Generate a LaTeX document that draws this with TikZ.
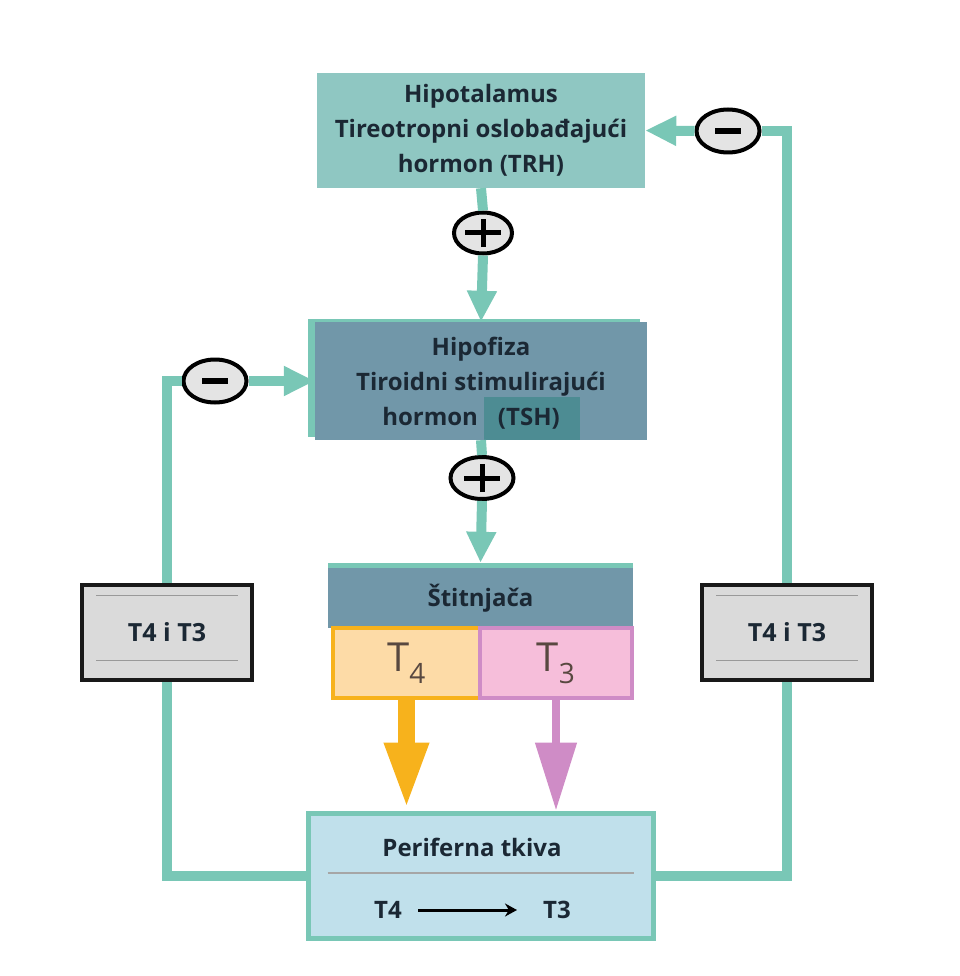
\documentclass[tikz,border=0pt]{standalone}
\usepackage{fontspec}
\setmainfont{Open Sans}
\usetikzlibrary{arrows.meta,positioning,calc,shapes.geometric}
\definecolor{LoopTeal}{RGB}{121,199,182}
\definecolor{HypoTeal}{RGB}{143,199,194}
\definecolor{SlateBlue}{RGB}{113,151,169}
\definecolor{TshTeal}{RGB}{77,140,147}
\definecolor{NavyText}{RGB}{27,40,52}
\definecolor{PeriBlue}{RGB}{192,224,235}
\definecolor{FourFill}{RGB}{253,219,167}
\definecolor{FourLine}{RGB}{247,178,28}
\definecolor{ThreeFill}{RGB}{246,190,218}
\definecolor{ThreeLine}{RGB}{207,140,198}
\definecolor{BoxGray}{RGB}{218,218,218}
\definecolor{SignGray}{RGB}{228,228,228}
\definecolor{HormText}{RGB}{88,72,64}

\tikzset{
  organbox/.style={rectangle, align=center, inner sep=0pt, text=NavyText,
    font=\bfseries\fontsize{24}{35}\selectfont},
  feedline/.style={draw=LoopTeal, line width=10pt},
  feedarrow/.style={feedline, -{Triangle[length=31pt,width=28pt]}},
  levelbox/.style={rectangle, draw=black!90, line width=4pt, fill=BoxGray,
    minimum width=170pt, minimum height=95pt, text=NavyText,
    font=\bfseries\fontsize{25}{28}\selectfont},
  hormbox/.style={rectangle, line width=4pt, minimum height=70pt, inner sep=0pt,
    text=HormText, font=\fontsize{40}{42}\selectfont},
  signoval/.style={ellipse, draw=black, line width=4pt, fill=SignGray,
    minimum width=58pt, minimum height=41pt, inner sep=0pt},
  plussign/.style={signoval, path picture={
    \draw[line width=5pt] ([xshift=-18pt]path picture bounding box.center) -- ([xshift=18pt]path picture bounding box.center);
    \draw[line width=5pt] ([yshift=-14pt]path picture bounding box.center) -- ([yshift=14pt]path picture bounding box.center);}},
  minussign/.style={signoval, path picture={
    \draw[line width=6pt] ([xshift=-13pt]path picture bounding box.center) -- ([xshift=13pt]path picture bounding box.center);}}
}

\begin{document}
\begin{tikzpicture}[x=1pt,y=-1pt]
  \useasboundingbox (0,0) rectangle (959,976);

  % glands
  \node[organbox, fill=HypoTeal, minimum width=328pt, minimum height=115pt] (hypo) at (481,130.5)
    {Hipotalamus\\Tireotropni oslobađajući\\hormon (TRH)};
  \node[organbox, fill=SlateBlue, minimum width=332pt, minimum height=118pt,
    preaction={fill=LoopTeal, transform canvas={shift={(-7pt,3pt)}}}] (pitu) at (481,381)
    {Hipofiza\\Tiroidni stimulirajući\\hormon\hspace{6pt}\smash{\setlength{\fboxsep}{4pt}\colorbox{TshTeal}{\strut\hspace{10pt}(TSH)\hspace{16pt}}}};
  \node[organbox, fill=SlateBlue, minimum width=305pt, minimum height=60pt,
    preaction={fill=LoopTeal, transform canvas={shift={(0pt,5pt)}}}] (thyro) at (480.5,598) {Štitnjača};
  \node[hormbox, draw=FourLine, fill=FourFill, minimum width=147pt] (tfour) at (406.5,663) {T\textsubscript{4}};
  \node[hormbox, draw=ThreeLine, fill=ThreeFill, minimum width=152pt] (tthree) at (556,663) {T\textsubscript{3}};

  \node[rectangle, draw=LoopTeal, line width=5pt, fill=PeriBlue,
    minimum width=345pt, minimum height=125pt] (peri) at (480.5,875.5) {};
  \node[organbox] (peritext) at (472,847) {Periferna tkiva};
  \node[organbox] (perifour) at (388,910) {T4};
  \node[organbox] (perithree) at (557,910) {T3};
  \draw[gray!70, line width=1.3pt] ($(peri.west)+(22,-2.5)$) -- ($(peri.east)+(-22,-2.5)$);
  \draw[line width=3pt, -{Stealth[length=12pt,width=13pt]}] ($(perifour.east)+(16,0)$) -- ($(perithree.west)+(-26,0)$);

  % feedback levels
  \node[levelbox] (levelL) at (167,632) {T4 i T3};
  \node[levelbox] (levelR) at (787,632) {T4 i T3};
  \foreach \lvl in {levelL,levelR} {
    \draw[gray!80, line width=1pt] ($(\lvl.north west)+(16,13)$) -- ($(\lvl.north east)+(-16,13)$);
    \draw[gray!80, line width=1pt] ($(\lvl.south west)+(16,-21)$) -- ($(\lvl.south east)+(-16,-21)$);
  }

  \node[plussign] (plusTRH) at (483,233) {};
  \node[plussign, minimum width=63pt, minimum height=42pt] (plusTSH) at (482,478) {};
  \node[minussign, minimum width=63pt, minimum height=43pt] (minusTRH) at (728,131) {};
  \node[minussign, minimum width=63pt, minimum height=43pt] (minusTSH) at (215,381) {};

  % stimulation
  \draw[feedline] (hypo.south) -- (plusTRH.north);
  \draw[feedarrow] (plusTRH.south) -- (pitu.north);
  \draw[feedline] (pitu.south) -- (plusTSH.north);
  \draw[feedarrow] (plusTSH.south) -- ([yshift=5pt]thyro.north);

  % hormones out
  \draw[FourLine, line width=17pt, -{Triangle[length=68pt,width=40pt]}] (tfour.south) -- (tfour.south |- peri.north);
  \draw[ThreeLine, line width=8pt, -{Triangle[length=68pt,width=40pt]}] (tthree.south) -- (tthree.south |- peri.north);

  % negative feedback
  \draw[feedline] (peri.west) -| (levelL.south);
  \draw[feedline] (levelL.north) |- (minusTSH.west);
  \draw[feedarrow] (minusTSH.east) -- (pitu.west);
  \draw[feedline] (peri.east) -| (levelR.south);
  \draw[feedline] (levelR.north) |- (minusTRH.east);
  \draw[feedarrow] (minusTRH.west) -- (hypo.east);
\end{tikzpicture}
\end{document}
